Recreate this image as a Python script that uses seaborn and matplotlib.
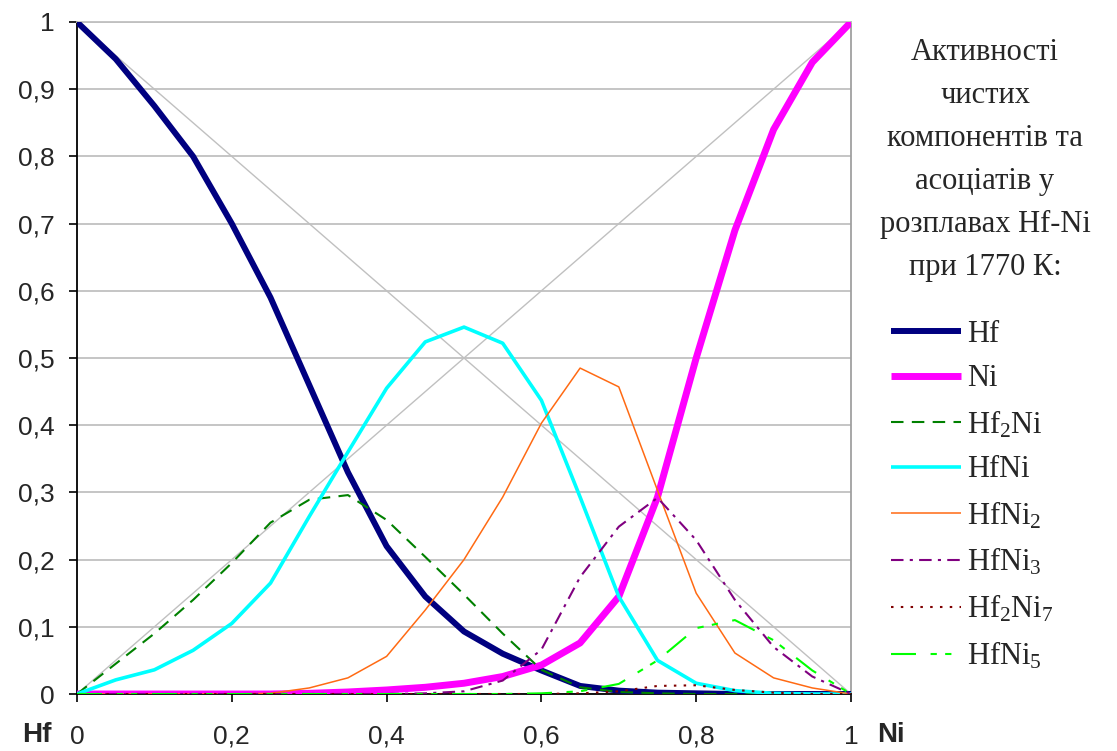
import numpy as np
import pandas as pd
import matplotlib
matplotlib.use("Agg")
import matplotlib.pyplot as plt
import seaborn as sns

# ---- data ----
x_ni = [0.0, 0.05, 0.1, 0.15, 0.2, 0.25, 0.3, 0.35, 0.4, 0.45, 0.5,
        0.55, 0.6, 0.65, 0.7, 0.75, 0.8, 0.85, 0.9, 0.95, 1.0]
a_hf = [1.0, 0.945, 0.875, 0.80, 0.70, 0.59, 0.46, 0.33, 0.22, 0.145, 0.093,
        0.06, 0.035, 0.012, 0.005, 0.002, 0.001, 0, 0, 0, 0]
a_ni = [0, 0, 0, 0, 0, 0, 0.001, 0.003, 0.006, 0.01, 0.016,
        0.026, 0.043, 0.076, 0.145, 0.293, 0.50, 0.69, 0.84, 0.94, 1.0]
a_hf2ni = [0, 0.045, 0.09, 0.14, 0.195, 0.255, 0.289, 0.296, 0.259, 0.204, 0.148,
           0.09, 0.036, 0.01, 0.003, 0.001, 0, 0, 0, 0, 0]
a_hfni = [0, 0.021, 0.036, 0.065, 0.105, 0.165, 0.264, 0.36, 0.455, 0.524, 0.546,
          0.522, 0.437, 0.293, 0.145, 0.05, 0.016, 0.005, 0.001, 0, 0]
a_hfni2 = [0, 0, 0, 0, 0, 0.001, 0.009, 0.024, 0.056, 0.125, 0.2,
           0.293, 0.403, 0.485, 0.457, 0.303, 0.15, 0.061, 0.024, 0.009, 0]
a_hfni3 = [0, 0, 0, 0, 0, 0, 0, 0, 0, 0.001, 0.004,
           0.02, 0.066, 0.174, 0.249, 0.292, 0.229, 0.14, 0.07, 0.026, 0]
a_hf2ni7 = [0, 0, 0, 0, 0, 0, 0, 0, 0, 0, 0,
            0, 0, 0.001, 0.004, 0.012, 0.013, 0.006, 0.002, 0, 0]
a_hfni5 = [0, 0, 0, 0, 0, 0, 0, 0, 0, 0, 0,
           0, 0.001, 0.004, 0.015, 0.05, 0.098, 0.11, 0.08, 0.035, 0]

ideal_x = [0.0, 1.0]
ideal_hf = [1.0, 0.0]
ideal_ni = [0.0, 1.0]

labels = ["Hf", "Ni", "Hf$_\\mathregular{2}$Ni", "HfNi", "HfNi$_\\mathregular{2}$",
          "HfNi$_\\mathregular{3}$", "Hf$_\\mathregular{2}$Ni$_\\mathregular{7}$",
          "HfNi$_\\mathregular{5}$"]
series = [a_hf, a_ni, a_hf2ni, a_hfni, a_hfni2, a_hfni3, a_hf2ni7, a_hfni5]
colors = ["#000080", "#ff00ff", "#008000", "#00ffff", "#ff6a13",
          "#800080", "#800000", "#00ff00"]
widths = [4.3, 5.0, 1.5, 2.6, 1.1, 1.5, 1.5, 1.5]
dashes = [None, None, (6, 4), None, None, (6, 3, 1.5, 3), (1.2, 3.5),
          (12, 7, 3, 4, 3, 7)]

title = "Активності\nчистих\nкомпонентів та\nасоціатів у\nрозплавах Hf-Ni\nпри 1770 К:"
yticks = [0, 0.1, 0.2, 0.3, 0.4, 0.5, 0.6, 0.7, 0.8, 0.9, 1.0]
ytick_labels = ["0", "0,1", "0,2", "0,3", "0,4", "0,5", "0,6", "0,7", "0,8", "0,9", "1"]
xticks = [0, 0.2, 0.4, 0.6, 0.8, 1.0]
xtick_labels = ["0", "0,2", "0,4", "0,6", "0,8", "1"]

# ---- style ----
sns.set_style("white")
plt.rcParams["font.family"] = ["Liberation Sans", "DejaVu Sans"]
plt.rcParams["mathtext.fontset"] = "custom"
plt.rcParams["mathtext.rm"] = "Liberation Serif"
plt.rcParams["mathtext.it"] = "Liberation Serif:italic"
plt.rcParams["mathtext.bf"] = "Liberation Serif:bold"

fig = plt.figure(figsize=(11.17, 7.51), dpi=100)
ax = fig.add_axes([77 / 1117, 1 - 694 / 751, (851 - 77) / 1117, (694 - 22) / 751])

# ideal lines
sns.lineplot(x=ideal_x, y=ideal_hf, ax=ax, color="#c0c0c0", linewidth=1.0, zorder=1)
sns.lineplot(x=ideal_x, y=ideal_ni, ax=ax, color="#c0c0c0", linewidth=1.0, zorder=1)

handles = []
for lab, ys, c, w, d in zip(labels, series, colors, widths, dashes):
    df = pd.DataFrame({"x": x_ni, "y": ys})
    sns.lineplot(data=df, x="x", y="y", ax=ax, color=c, linewidth=w, zorder=3)
    ln = ax.get_lines()[-1]
    if d is not None:
        ln.set_dashes(d)
    ln.set_solid_capstyle("butt")
    ln.set_label(lab)
    handles.append(ln)

if ax.get_legend() is not None:
    ax.get_legend().remove()

ax.set_xlim(0, 1)
ax.set_ylim(0, 1)
ax.set_yticks(yticks)
ax.set_yticklabels(ytick_labels)
ax.set_xticks(xticks)
ax.set_xticklabels(xtick_labels)
ax.set_xlabel("")
ax.set_ylabel("")
ax.yaxis.grid(True, color="#c0c0c0", linewidth=1.3)
ax.xaxis.grid(False)
ax.set_axisbelow(True)
ax.tick_params(axis="y", which="major", length=6, width=1.2, color="black",
               direction="out", labelsize=19, pad=10, left=True)
ax.tick_params(axis="x", which="major", length=6, width=1.2, color="black",
               direction="out", labelsize=19, pad=16, bottom=True)
for s in ["left", "bottom"]:
    ax.spines[s].set_color("black")
    ax.spines[s].set_linewidth(1.3)
ax.spines["right"].set_color("#a0a0a0")
ax.spines["right"].set_linewidth(1.3)
ax.spines["top"].set_color("#c0c0c0")
ax.spines["top"].set_linewidth(1.3)

# end labels
fig.text(22 / 1117, 1 - 735 / 751, "Hf", fontsize=20, fontweight="bold",
         ha="left", va="center", family=["Liberation Sans"])
fig.text(877 / 1117, 1 - 735 / 751, "Ni", fontsize=20, fontweight="bold",
         ha="left", va="center", family=["Liberation Sans"])

# title block
fig.text(985 / 1117, 1 - 160 / 751, title, fontsize=22, ha="center", va="center",
         multialignment="center", linespacing=1.64, family=["Liberation Serif"])

leg = fig.legend(handles=handles, labels=labels, loc="upper left",
                 bbox_to_anchor=(891 / 1117, 1 - 320 / 751), frameon=False,
                 prop={"family": "Liberation Serif", "size": 22},
                 handlelength=2.3, handletextpad=0.2, labelspacing=0.5,
                 borderpad=0, borderaxespad=0)

fig.savefig("out.png", dpi=100)
